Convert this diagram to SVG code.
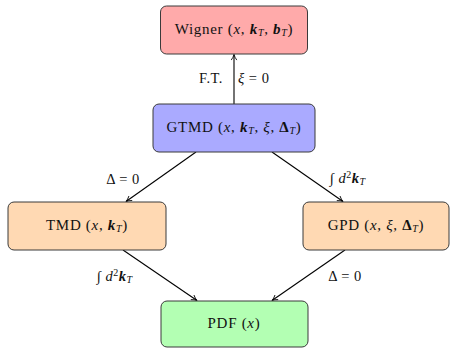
<svg xmlns="http://www.w3.org/2000/svg" width="456" height="348" viewBox="0 0 456 348">
<style>
.box{stroke:#3a3a3a;stroke-width:1}
.t{font-family:'Liberation Serif',serif;font-size:15px;fill:#111;letter-spacing:0.7px}
.l{font-family:'Liberation Serif',serif;font-size:14.5px;fill:#111;letter-spacing:0.5px}
.i{font-style:italic}
.b{font-weight:bold}
.bi{font-weight:bold;font-style:italic}
.s{font-size:10px;font-style:italic}
.edge{stroke:#000;stroke-width:1.1;fill:none;marker-end:url(#ah)}
</style>
<defs>
<marker id="ah" viewBox="0 0 10 10" refX="9" refY="5" markerWidth="7" markerHeight="7" orient="auto" markerUnits="userSpaceOnUse">
<path d="M1,1 Q5,4 9,5 Q5,6 1,9" fill="none" stroke="#000" stroke-width="1.2"/>
</marker>
</defs>
<g id="connectors">
<line class="edge" x1="234" y1="104" x2="234" y2="54.5"/>
<line class="edge" x1="196" y1="152" x2="126" y2="201.5"/>
<line class="edge" x1="272" y1="152" x2="343" y2="201.5"/>
<line class="edge" x1="123" y1="250" x2="197" y2="300.5"/>
<line class="edge" x1="345" y1="250" x2="272" y2="300.5"/>
<text class="l" x="211" y="83" text-anchor="middle">F.T.</text>
<text class="l" x="238" y="83"><tspan class="i">ξ</tspan> = 0</text>
<text class="l" x="123" y="184" text-anchor="middle">Δ = 0</text>
<text class="l" x="330" y="183"><tspan class="i">∫ d</tspan><tspan font-size="10" dy="-5">2</tspan><tspan class="bi" dy="5">k</tspan><tspan class="s" dy="2">T</tspan></text>
<text class="l" x="97" y="281"><tspan class="i">∫ d</tspan><tspan font-size="10" dy="-5">2</tspan><tspan class="bi" dy="5">k</tspan><tspan class="s" dy="2">T</tspan></text>
<text class="l" x="345" y="281" text-anchor="middle">Δ = 0</text>
</g>
<g id="wigner">
<rect class="box" x="160.5" y="6" width="147" height="48" rx="6" fill="#ffaaaa"/>
<text class="t" x="234" y="34" text-anchor="middle">Wigner (<tspan class="i">x</tspan>, <tspan class="bi">k</tspan><tspan class="s" dy="2">T</tspan><tspan dy="-2">, </tspan><tspan class="bi">b</tspan><tspan class="s" dy="2">T</tspan><tspan dy="-2">)</tspan></text>
</g>
<g id="gtmd">
<rect class="box" x="153" y="104" width="162" height="48" rx="6" fill="#aaaaff"/>
<text class="t" x="234" y="132" text-anchor="middle">GTMD (<tspan class="i">x</tspan>, <tspan class="bi">k</tspan><tspan class="s" dy="2">T</tspan><tspan dy="-2">, </tspan><tspan class="i">ξ</tspan>, <tspan class="b">Δ</tspan><tspan class="s" dy="2">T</tspan><tspan dy="-2">)</tspan></text>
</g>
<g id="tmd">
<rect class="box" x="8" y="202" width="158" height="48" rx="6" fill="#ffd9b3"/>
<text class="t" x="87" y="230" text-anchor="middle">TMD (<tspan class="i">x</tspan>, <tspan class="bi">k</tspan><tspan class="s" dy="2">T</tspan><tspan dy="-2">)</tspan></text>
</g>
<g id="gpd">
<rect class="box" x="303" y="202" width="146" height="48" rx="6" fill="#ffd9b3"/>
<text class="t" x="376" y="230" text-anchor="middle">GPD (<tspan class="i">x</tspan>, <tspan class="i">ξ</tspan>, <tspan class="b">Δ</tspan><tspan class="s" dy="2">T</tspan><tspan dy="-2">)</tspan></text>
</g>
<g id="pdf">
<rect class="box" x="161" y="301" width="147" height="46" rx="6" fill="#b3ffb3"/>
<text class="t" x="234" y="328" text-anchor="middle">PDF (<tspan class="i">x</tspan>)</text>
</g>
</svg>
